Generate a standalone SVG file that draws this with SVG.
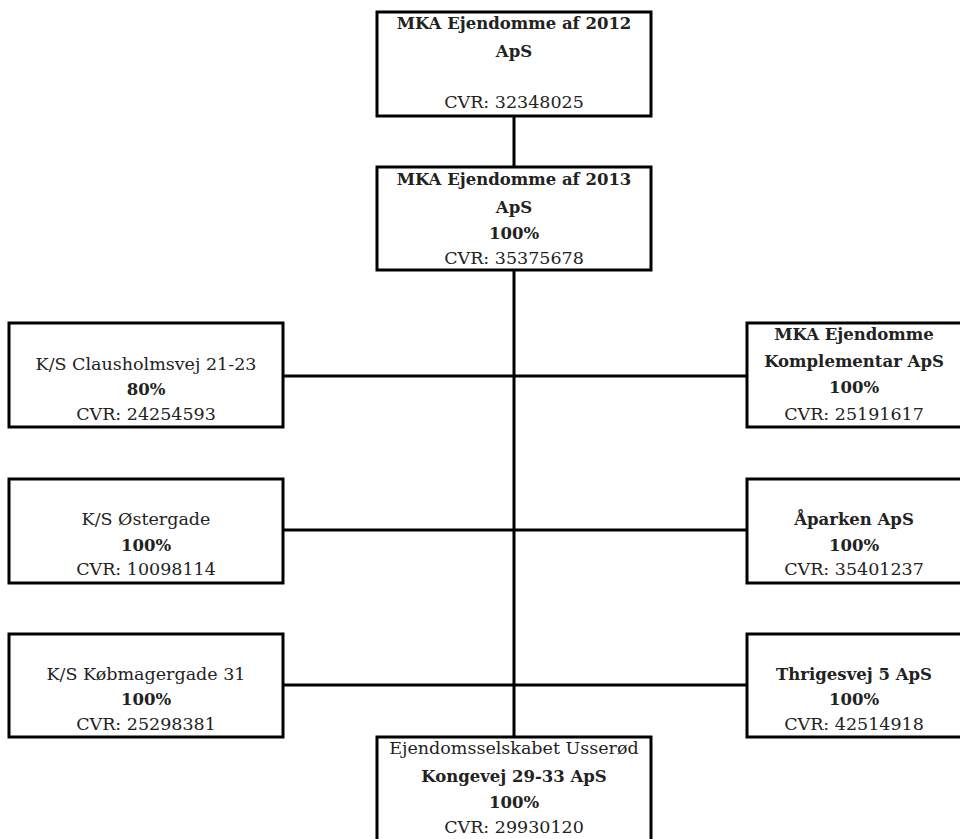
<svg xmlns="http://www.w3.org/2000/svg" width="960" height="839" viewBox="0 0 960 839">
<style>
.box{fill:#fff;stroke:#000;stroke-width:3}
.ln{stroke:#000;stroke-width:3;fill:none}
text{font-family:"DejaVu Serif","Liberation Serif",serif;font-size:17.5px;fill:#222;text-anchor:middle}
.b{font-weight:bold;font-size:16.5px}
</style>
<rect width="960" height="839" fill="#fff"/>
<g id="connectors">
<line class="ln" x1="514" y1="116" x2="514" y2="167"/>
<line class="ln" x1="514" y1="270" x2="514" y2="737"/>
<line class="ln" x1="283" y1="376" x2="747" y2="376"/>
<line class="ln" x1="283" y1="530" x2="747" y2="530"/>
<line class="ln" x1="283" y1="685" x2="747" y2="685"/>
</g>
<g id="n2012">
<rect class="box" x="377" y="12" width="274" height="104"/>
<text x="514" y="29" class="b">MKA Ejendomme af 2012</text>
<text x="514" y="57" class="b">ApS</text>
<text x="514" y="108">CVR: 32348025</text>
</g>
<g id="n2013">
<rect class="box" x="377" y="167" width="274" height="103"/>
<text x="514" y="185" class="b">MKA Ejendomme af 2013</text>
<text x="514" y="213" class="b">ApS</text>
<text x="514" y="239" class="b">100%</text>
<text x="514" y="264">CVR: 35375678</text>
</g>
<g id="clausholmsvej">
<rect class="box" x="9" y="323" width="274" height="104"/>
<text x="146" y="370">K/S Clausholmsvej 21-23</text>
<text x="146" y="395" class="b">80%</text>
<text x="146" y="420">CVR: 24254593</text>
</g>
<g id="komplementar">
<rect class="box" x="747" y="323" width="220" height="104"/>
<text x="854" y="340" class="b">MKA Ejendomme</text>
<text x="854" y="367" class="b">Komplementar ApS</text>
<text x="854" y="393" class="b">100%</text>
<text x="854" y="420">CVR: 25191617</text>
</g>
<g id="oestergade">
<rect class="box" x="9" y="479" width="274" height="104"/>
<text x="146" y="525">K/S Østergade</text>
<text x="146" y="551" class="b">100%</text>
<text x="146" y="575">CVR: 10098114</text>
</g>
<g id="aaparken">
<rect class="box" x="747" y="479" width="220" height="104"/>
<text x="854" y="525" class="b">Åparken ApS</text>
<text x="854" y="551" class="b">100%</text>
<text x="854" y="575">CVR: 35401237</text>
</g>
<g id="koebmagergade">
<rect class="box" x="9" y="634" width="274" height="103"/>
<text x="146" y="680">K/S Købmagergade 31</text>
<text x="146" y="705" class="b">100%</text>
<text x="146" y="730">CVR: 25298381</text>
</g>
<g id="thrigesvej">
<rect class="box" x="747" y="634" width="220" height="103"/>
<text x="854" y="680" class="b">Thrigesvej 5 ApS</text>
<text x="854" y="705" class="b">100%</text>
<text x="854" y="730">CVR: 42514918</text>
</g>
<g id="usseroed">
<rect class="box" x="377" y="737" width="274" height="130"/>
<text x="514" y="754">Ejendomsselskabet Usserød</text>
<text x="514" y="782" class="b">Kongevej 29-33 ApS</text>
<text x="514" y="808" class="b">100%</text>
<text x="514" y="833">CVR: 29930120</text>
</g>
</svg>
